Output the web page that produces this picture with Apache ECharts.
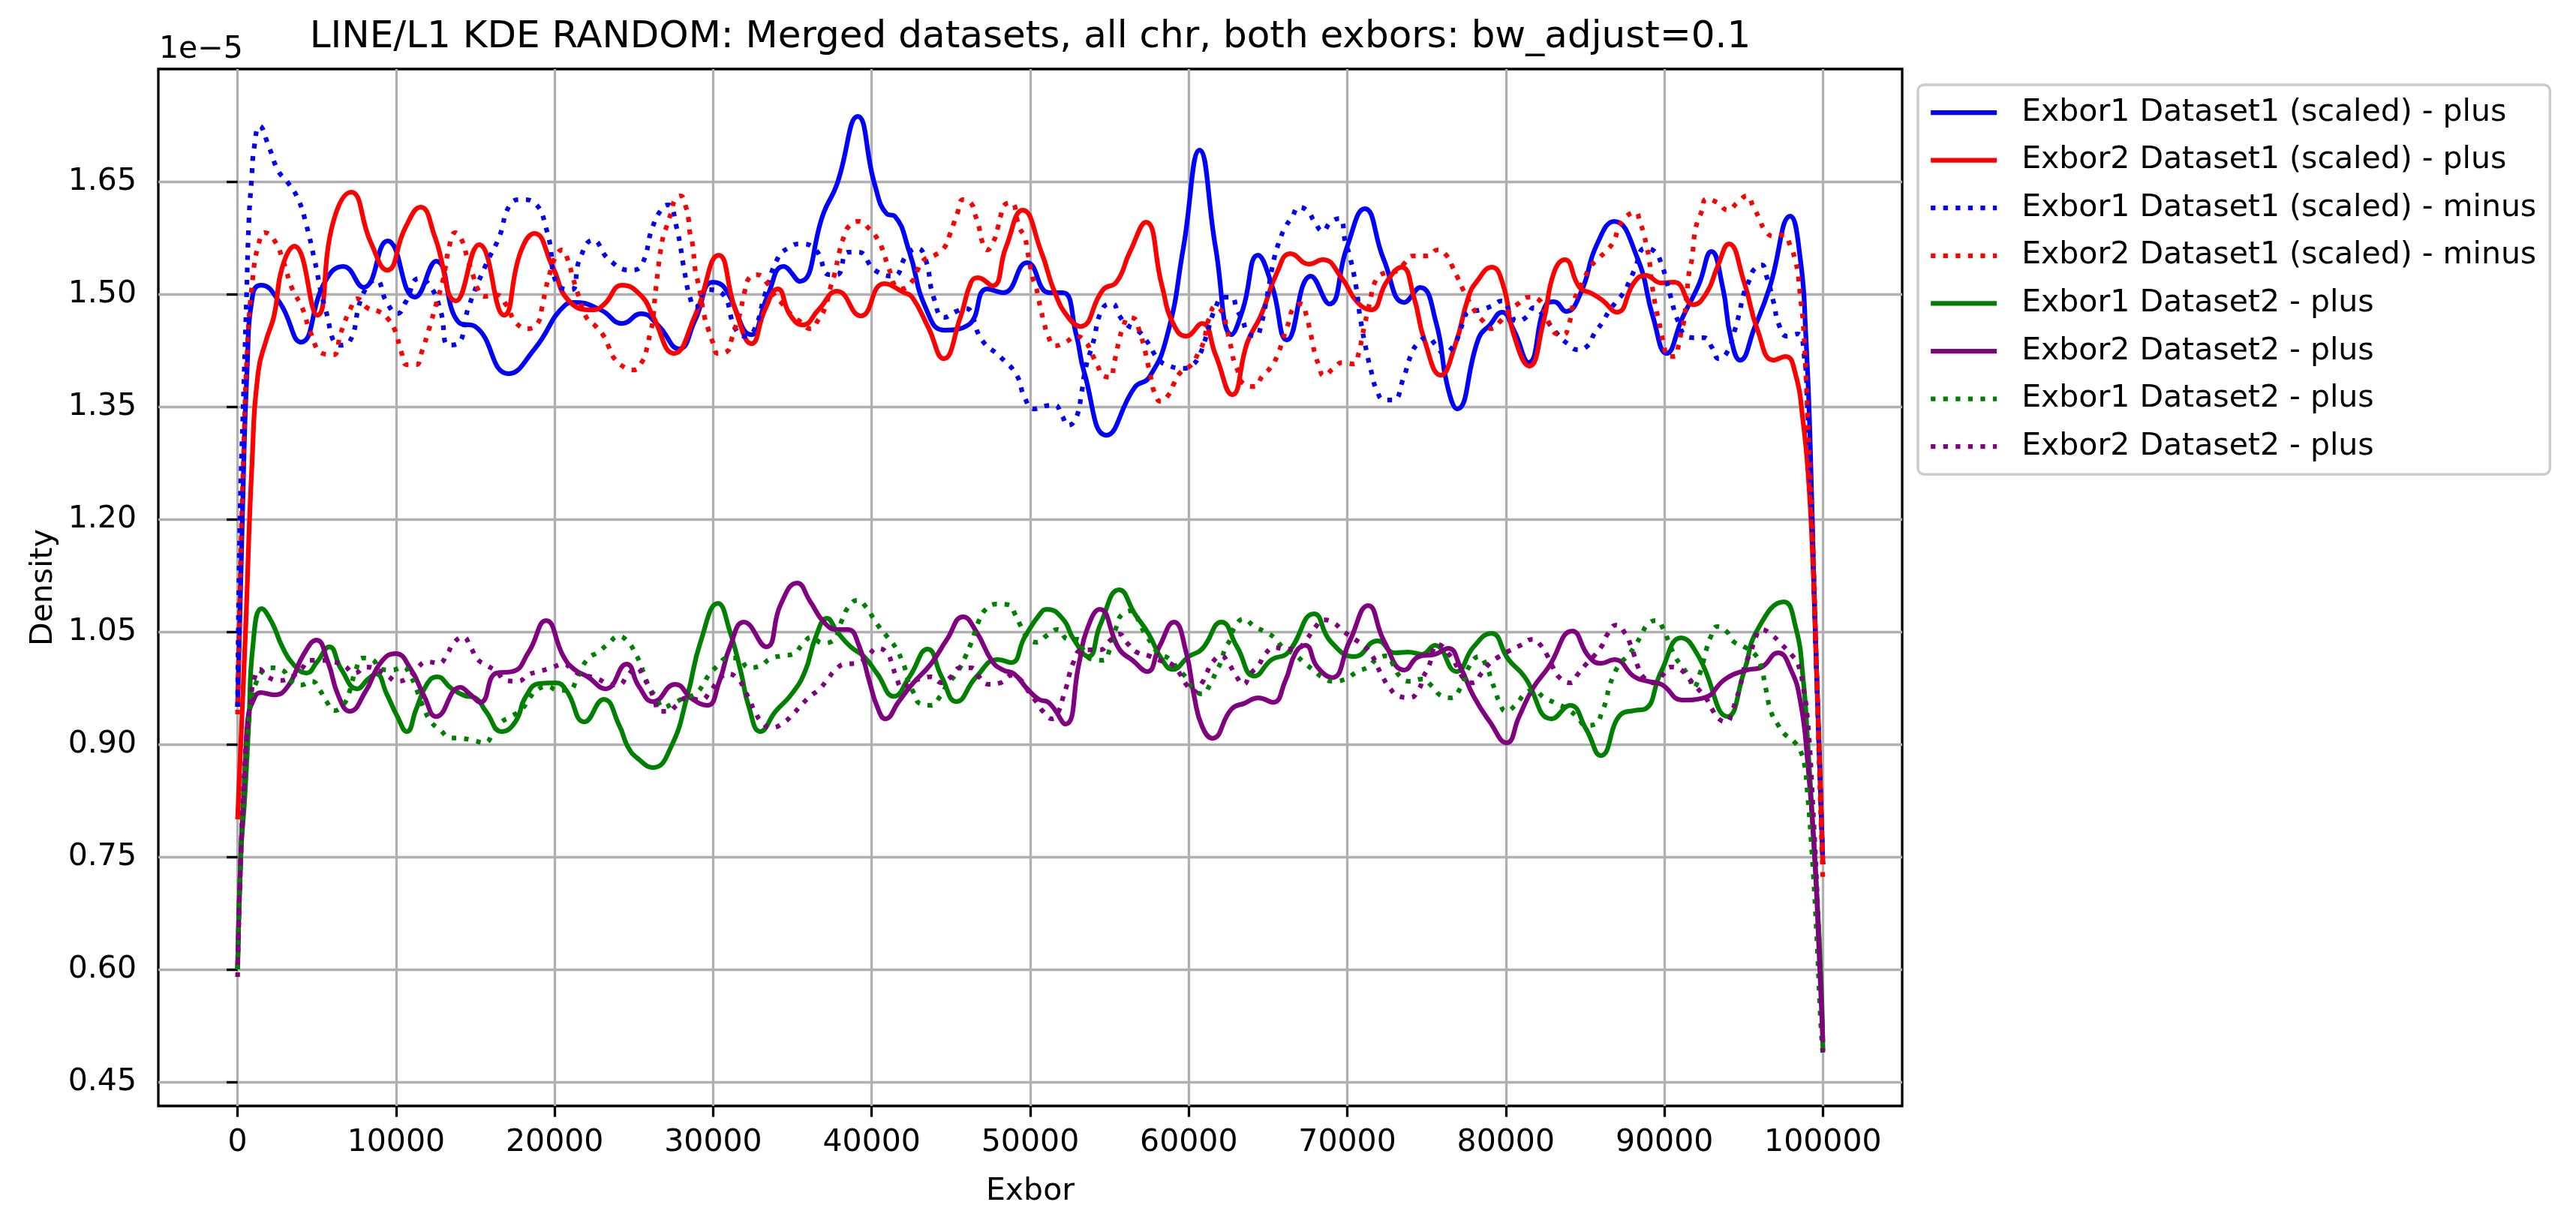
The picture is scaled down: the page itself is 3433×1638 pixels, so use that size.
<!DOCTYPE html>
<html>
<head>
<meta charset="utf-8">
<title>LINE/L1 KDE RANDOM</title>
<script src="https://cdn.jsdelivr.net/npm/echarts@6.0.0/dist/echarts.min.js"></script>
<style>
  html, body { margin: 0; padding: 0; background: #fff; }
  #chart { width: 3433px; height: 1638px; }
</style>
</head>
<body>
<div id="chart"></div>
<script>
// x in thousands of Exbor, y in units of 1e-5
const xTicks = [0, 10000, 20000, 30000, 40000, 50000, 60000, 70000, 80000, 90000, 100000];
const yTicks = [0.45, 0.60, 0.75, 0.90, 1.05, 1.20, 1.35, 1.50, 1.65];

const seriesLabels = [
  "Exbor1 Dataset1 (scaled) - plus",
  "Exbor2 Dataset1 (scaled) - plus",
  "Exbor1 Dataset1 (scaled) - minus",
  "Exbor2 Dataset1 (scaled) - minus",
  "Exbor1 Dataset2 - plus",
  "Exbor2 Dataset2 - plus",
  "Exbor1 Dataset2 - plus",
  "Exbor2 Dataset2 - plus"
];

const exbor1Set1Plus = [[0,0.95],[0.3,1.2],[0.6,1.40],[0.96,1.50],[1.47,1.512],[2.65,1.489],[4.0,1.436],[5.5,1.516],[6.67,1.537],[7.94,1.509],[9.46,1.571],[11.18,1.496],[12.53,1.544],[13.97,1.462],[14.98,1.457],[17.09,1.394],[18.7,1.426],[20.7,1.486],[21.2,1.489],[22.9,1.479],[24.27,1.461],[25.46,1.474],[26.5,1.459],[27.85,1.427],[28.87,1.466],[29.97,1.516],[30.7,1.509],[32.4,1.446],[33.4,1.496],[34.44,1.537],[35.46,1.517],[36.98,1.609],[37.8,1.646],[39.12,1.737],[40.19,1.646],[40.95,1.607],[41.45,1.604],[42.38,1.556],[43.4,1.482],[44.58,1.452],[46.1,1.459],[47.28,1.507],[48.3,1.502],[49.8,1.542],[51.2,1.502],[52.06,1.502],[52.9,1.446],[53.4,1.396],[54.81,1.312],[56.6,1.376],[57.5,1.389],[58.65,1.446],[59.66,1.562],[60.68,1.692],[61.69,1.562],[62.7,1.446],[63.4,1.479],[64.36,1.552],[65.24,1.512],[66.2,1.439],[67.7,1.524],[68.87,1.487],[69.97,1.562],[71.1,1.614],[72.3,1.546],[73.6,1.489],[74.6,1.509],[75.6,1.462],[76.3,1.379],[76.93,1.347],[78.3,1.442],[79.0,1.459],[79.75,1.476],[80.5,1.452],[81.44,1.409],[82.53,1.486],[83.04,1.490],[83.8,1.477],[84.73,1.502],[85.74,1.566],[86.84,1.597],[88.28,1.549],[89.29,1.469],[90.14,1.421],[91.15,1.469],[92.16,1.512],[92.97,1.557],[93.68,1.509],[94.19,1.442],[94.78,1.412],[95.7,1.456],[96.64,1.509],[97.94,1.604],[98.58,1.546],[98.92,1.446],[99.2,1.30],[99.45,1.10],[99.75,0.90],[100,0.74]];

const exbor2Set1Plus = [[0,0.80],[0.5,1.05],[0.9,1.27],[1.3,1.396],[1.81,1.439],[2.31,1.472],[2.82,1.536],[3.58,1.564],[5.02,1.472],[6.03,1.596],[7.16,1.636],[8.4,1.569],[9.44,1.532],[10.59,1.589],[11.55,1.616],[12.45,1.576],[13.77,1.491],[15.24,1.566],[16.8,1.472],[17.85,1.556],[18.73,1.581],[19.88,1.536],[20.9,1.491],[22.4,1.479],[23.1,1.486],[24.27,1.512],[25.5,1.497],[26.17,1.472],[27.52,1.421],[28.87,1.472],[30.35,1.552],[31.4,1.479],[32.42,1.434],[33.26,1.479],[34.07,1.507],[34.86,1.472],[35.66,1.459],[36.64,1.479],[37.82,1.504],[39.31,1.471],[40.78,1.514],[42.04,1.502],[42.55,1.496],[43.56,1.456],[44.54,1.414],[45.59,1.469],[46.27,1.516],[46.69,1.522],[47.62,1.511],[48.46,1.562],[49.53,1.612],[50.7,1.556],[51.55,1.502],[52.4,1.469],[53.16,1.457],[54.6,1.506],[55.44,1.516],[56.28,1.556],[57.3,1.596],[58.3,1.512],[58.99,1.462],[59.83,1.444],[60.84,1.461],[61.69,1.419],[62.74,1.366],[63.7,1.436],[64.56,1.472],[65.57,1.529],[66.42,1.554],[67.6,1.540],[68.45,1.546],[69.63,1.522],[70.64,1.489],[71.49,1.479],[72.5,1.517],[73.43,1.536],[74.2,1.496],[74.86,1.439],[75.9,1.392],[76.8,1.432],[77.64,1.496],[78.14,1.516],[79.12,1.536],[79.83,1.512],[80.5,1.446],[81.49,1.404],[82.36,1.462],[83.04,1.529],[83.72,1.546],[84.65,1.509],[85.4,1.501],[86.08,1.492],[87.01,1.476],[88.11,1.516],[88.82,1.525],[89.8,1.515],[90.64,1.516],[91.82,1.486],[92.67,1.502],[93.34,1.536],[94.07,1.567],[95.03,1.516],[95.88,1.452],[96.89,1.412],[97.65,1.417],[98.24,1.396],[98.75,1.33],[99.1,1.25],[99.35,1.15],[99.55,1.03],[99.76,0.90],[100,0.74]];

const exbor1Set1Minus = [[0,0.95],[0.15,1.2],[0.37,1.362],[0.54,1.479],[0.71,1.596],[0.88,1.652],[1.05,1.696],[1.39,1.724],[1.98,1.696],[2.57,1.664],[3.16,1.649],[3.83,1.626],[4.34,1.592],[4.85,1.546],[5.52,1.482],[6.45,1.432],[7.04,1.436],[7.89,1.499],[8.73,1.519],[9.41,1.489],[10.08,1.474],[10.59,1.489],[11.44,1.521],[12.11,1.512],[12.79,1.479],[13.3,1.432],[13.89,1.434],[14.56,1.482],[15.66,1.539],[16.5,1.576],[17.18,1.619],[17.94,1.626],[18.7,1.622],[19.54,1.582],[20.2,1.512],[21.06,1.506],[21.57,1.546],[22.42,1.572],[23.43,1.546],[24.78,1.532],[25.49,1.539],[26.17,1.589],[26.84,1.616],[27.18,1.619],[27.69,1.589],[28.2,1.529],[28.53,1.496],[28.87,1.482],[29.63,1.506],[30.56,1.501],[31.4,1.454],[31.99,1.444],[32.58,1.452],[33.26,1.499],[34.1,1.549],[34.78,1.562],[35.46,1.567],[36.47,1.559],[37.31,1.526],[37.82,1.526],[38.5,1.556],[39.17,1.556],[40.19,1.532],[41.37,1.524],[42.21,1.552],[42.89,1.561],[43.4,1.546],[43.9,1.496],[44.58,1.469],[45.34,1.477],[45.93,1.481],[46.94,1.439],[48.13,1.416],[49.14,1.392],[49.65,1.362],[50.24,1.347],[50.96,1.351],[51.55,1.352],[51.98,1.339],[52.4,1.325],[52.91,1.336],[53.24,1.369],[53.5,1.402],[53.92,1.432],[54.6,1.482],[55.19,1.487],[55.6,1.472],[56.1,1.459],[56.8,1.451],[57.3,1.439],[58.14,1.412],[58.82,1.404],[59.58,1.401],[60.25,1.406],[60.68,1.419],[61.0,1.437],[61.69,1.482],[62.2,1.496],[62.7,1.496],[63.04,1.479],[63.38,1.466],[63.72,1.449],[64.22,1.444],[64.56,1.459],[64.98,1.502],[65.4,1.549],[65.74,1.572],[66.08,1.589],[66.5,1.602],[66.96,1.616],[67.52,1.610],[67.94,1.596],[68.45,1.584],[68.95,1.596],[69.51,1.601],[69.88,1.569],[70.14,1.552],[70.56,1.509],[70.81,1.469],[71.23,1.422],[71.57,1.392],[71.82,1.374],[72.33,1.359],[72.92,1.359],[73.51,1.386],[74.02,1.419],[74.44,1.434],[75.03,1.442],[75.6,1.432],[76.1,1.421],[76.7,1.431],[77.04,1.446],[77.3,1.462],[77.64,1.476],[78.4,1.479],[79.07,1.484],[79.75,1.491],[80.25,1.477],[80.68,1.464],[81.27,1.469],[81.77,1.482],[82.36,1.472],[82.79,1.459],[83.29,1.446],[83.89,1.434],[84.53,1.426],[85.2,1.432],[85.57,1.447],[86.08,1.462],[86.5,1.477],[86.93,1.489],[87.43,1.502],[87.77,1.516],[88.11,1.532],[88.78,1.561],[89.38,1.557],[89.8,1.541],[90.22,1.511],[90.64,1.477],[90.9,1.462],[91.23,1.447],[91.82,1.442],[92.5,1.442],[93.0,1.429],[93.43,1.414],[93.94,1.422],[94.44,1.452],[94.7,1.472],[95.03,1.502],[95.37,1.519],[95.62,1.532],[96.13,1.539],[96.47,1.522],[96.89,1.489],[97.23,1.459],[97.74,1.444],[98.41,1.447],[98.83,1.416],[99.0,1.362],[99.3,1.2],[99.55,1.03],[99.78,0.88],[100,0.74]];

const exbor2Set1Minus = [[0,0.94],[0.2,1.15],[0.37,1.279],[0.62,1.429],[0.96,1.522],[1.33,1.567],[1.72,1.582],[2.31,1.572],[2.91,1.542],[3.41,1.509],[4.09,1.481],[4.6,1.449],[5.35,1.421],[6.03,1.419],[6.52,1.449],[7.13,1.481],[7.55,1.494],[8.23,1.481],[8.9,1.477],[9.49,1.467],[9.92,1.452],[10.34,1.422],[10.68,1.406],[11.27,1.406],[11.6,1.422],[12.11,1.456],[12.53,1.487],[12.96,1.519],[13.38,1.566],[13.72,1.582],[14.14,1.572],[14.48,1.549],[14.9,1.522],[15.15,1.507],[15.57,1.497],[16.33,1.499],[16.93,1.486],[17.6,1.461],[18.36,1.454],[18.95,1.462],[19.2,1.482],[19.46,1.509],[19.71,1.529],[19.97,1.546],[20.47,1.559],[20.81,1.547],[21.15,1.522],[21.49,1.499],[22.0,1.469],[22.6,1.457],[23.1,1.444],[23.43,1.429],[23.77,1.414],[24.44,1.402],[24.98,1.399],[25.57,1.412],[25.83,1.429],[26.0,1.446],[26.17,1.462],[26.33,1.496],[26.5,1.529],[26.67,1.556],[26.84,1.576],[27.09,1.592],[27.35,1.609],[27.6,1.626],[27.94,1.631],[28.28,1.616],[28.45,1.599],[28.53,1.582],[28.7,1.566],[28.87,1.532],[29.04,1.516],[29.2,1.499],[29.46,1.469],[29.71,1.452],[29.97,1.436],[30.3,1.421],[30.9,1.424],[31.15,1.439],[31.4,1.456],[31.66,1.472],[31.99,1.504],[32.25,1.521],[32.75,1.526],[33.43,1.514],[33.85,1.499],[34.36,1.487],[34.95,1.472],[35.46,1.464],[36.13,1.454],[36.64,1.466],[37.06,1.482],[37.4,1.509],[37.65,1.526],[37.99,1.559],[38.24,1.576],[38.58,1.591],[39.17,1.597],[39.85,1.587],[40.35,1.574],[40.69,1.559],[40.95,1.542],[41.2,1.527],[41.45,1.512],[41.88,1.507],[42.55,1.517],[42.89,1.532],[43.31,1.546],[43.99,1.552],[44.58,1.562],[44.92,1.579],[45.17,1.594],[45.42,1.609],[45.76,1.626],[46.27,1.621],[46.52,1.606],[46.77,1.589],[46.94,1.572],[47.28,1.559],[47.7,1.571],[47.96,1.589],[48.13,1.604],[48.38,1.619],[48.8,1.622],[49.31,1.589],[49.65,1.576],[49.81,1.559],[50.15,1.522],[50.37,1.509],[50.54,1.492],[50.71,1.476],[50.88,1.461],[51.13,1.444],[51.55,1.431],[52.23,1.436],[52.9,1.444],[53.5,1.436],[53.92,1.419],[54.26,1.404],[54.6,1.391],[55.1,1.389],[55.27,1.406],[55.44,1.422],[55.61,1.439],[55.86,1.456],[56.2,1.469],[56.6,1.467],[56.88,1.451],[57.13,1.434],[57.3,1.419],[57.47,1.402],[57.64,1.386],[57.8,1.371],[58.23,1.357],[58.73,1.366],[59.07,1.381],[59.49,1.396],[60.17,1.406],[60.59,1.421],[60.93,1.436],[61.1,1.452],[61.27,1.467],[61.69,1.484],[62.2,1.472],[62.36,1.457],[62.53,1.442],[62.7,1.426],[62.87,1.409],[63.13,1.396],[63.38,1.382],[64.14,1.377],[64.65,1.391],[65.15,1.402],[65.57,1.417],[65.83,1.432],[66.08,1.449],[66.33,1.464],[66.59,1.481],[67.09,1.487],[67.43,1.471],[67.6,1.456],[67.77,1.439],[67.94,1.422],[68.19,1.406],[68.53,1.391],[69.12,1.401],[69.71,1.409],[70.39,1.407],[70.73,1.422],[70.9,1.439],[71.06,1.456],[71.23,1.472],[71.4,1.487],[71.82,1.519],[72.5,1.529],[73.18,1.531],[73.6,1.541],[74.19,1.551],[75.03,1.551],[75.7,1.559],[76.28,1.551],[76.62,1.537],[76.96,1.522],[77.3,1.506],[77.64,1.492],[78.06,1.477],[78.56,1.464],[79.07,1.454],[79.66,1.464],[80.17,1.477],[80.76,1.487],[81.44,1.496],[82.11,1.492],[82.45,1.476],[82.79,1.459],[83.21,1.447],[83.63,1.446],[83.97,1.459],[84.31,1.492],[84.65,1.507],[84.98,1.522],[85.32,1.536],[85.91,1.549],[86.42,1.559],[86.84,1.572],[87.09,1.587],[87.52,1.602],[88.19,1.609],[88.45,1.596],[88.7,1.581],[88.87,1.564],[89.04,1.547],[89.21,1.514],[89.46,1.482],[89.63,1.466],[89.8,1.449],[89.97,1.432],[90.22,1.417],[90.64,1.417],[90.9,1.432],[91.06,1.449],[91.23,1.464],[91.4,1.497],[91.57,1.531],[91.74,1.547],[91.91,1.581],[92.08,1.596],[92.33,1.609],[92.67,1.627],[93.34,1.622],[93.99,1.612],[94.61,1.622],[95.2,1.631],[95.62,1.616],[95.96,1.602],[96.3,1.587],[96.89,1.577],[97.48,1.579],[97.99,1.562],[98.24,1.546],[98.41,1.529],[98.58,1.496],[98.75,1.462],[98.92,1.396],[99.09,1.312],[99.35,1.18],[99.6,1.0],[99.8,0.85],[100,0.72]];

const exbor1Set2Plus = [[0,0.60],[0.2,0.75],[0.46,0.831],[0.71,0.930],[0.96,1.030],[1.52,1.081],[2.15,1.063],[2.82,1.030],[3.5,1.007],[4.34,0.995],[5.02,1.010],[5.78,1.030],[6.54,1.000],[7.55,0.974],[8.23,0.987],[8.73,0.994],[9.41,0.967],[10.08,0.937],[10.68,0.917],[11.27,0.947],[11.94,0.980],[12.58,0.990],[13.46,0.975],[14.3,0.965],[14.98,0.962],[15.66,0.944],[16.67,0.917],[17.52,0.930],[18.19,0.964],[19.04,0.981],[20.05,0.982],[20.73,0.972],[21.88,0.930],[23.09,0.960],[24.1,0.924],[24.61,0.897],[25.25,0.881],[26.22,0.869],[27.35,0.897],[28.36,0.964],[29.21,1.037],[30.3,1.088],[31.06,1.050],[31.74,0.997],[32.25,0.950],[32.97,0.917],[33.94,0.944],[34.95,0.967],[35.79,0.997],[36.47,1.043],[37.18,1.068],[37.82,1.050],[38.67,1.030],[39.51,1.017],[40.35,0.994],[41.4,0.964],[42.38,0.990],[43.53,1.027],[44.41,0.990],[45.34,0.957],[46.6,0.990],[47.96,1.013],[48.8,1.009],[49.65,1.043],[50.66,1.075],[51.05,1.080],[52.06,1.067],[52.74,1.040],[53.67,1.017],[54.43,1.060],[55.61,1.106],[56.62,1.073],[57.47,1.047],[58.31,1.013],[58.99,1.000],[60.0,1.017],[60.84,1.027],[62.06,1.063],[63.04,1.030],[64.14,0.991],[65.24,1.013],[66.25,1.022],[67.9,1.074],[68.95,1.037],[70.47,1.017],[71.9,1.038],[73.0,1.022],[73.85,1.023],[74.7,1.020],[75.52,1.032],[76.88,0.997],[77.97,1.030],[79.07,1.048],[80.17,1.013],[81.18,0.990],[82.9,0.934],[84.05,0.952],[85.07,0.920],[86.0,0.885],[87.26,0.940],[88.11,0.945],[88.78,0.947],[89.8,0.997],[91.06,1.042],[92.16,1.017],[93.99,0.937],[95.03,0.997],[95.88,1.053],[97.53,1.090],[98.27,1.057],[98.74,0.99],[99.05,0.90],[99.37,0.789],[99.68,0.677],[99.92,0.565],[100,0.492]];

const exbor2Set2Plus = [[0,0.60],[0.2,0.75],[0.5,0.88],[0.63,0.930],[0.96,0.957],[1.47,0.969],[2.31,0.966],[3.16,0.977],[4.17,1.020],[4.98,1.039],[5.69,1.010],[6.37,0.964],[7.08,0.944],[8.06,0.970],[9.07,1.010],[9.97,1.021],[10.93,1.000],[11.77,0.964],[12.53,0.937],[14.05,0.976],[14.65,0.967],[15.32,0.956],[16.33,0.995],[17.35,0.997],[18.36,1.023],[19.46,1.065],[20.56,1.017],[21.23,1.000],[22.08,0.990],[23.23,0.974],[24.53,1.007],[25.32,0.977],[26.22,0.957],[27.6,0.980],[28.7,0.960],[29.63,0.952],[30.39,0.984],[31.06,1.030],[31.94,1.063],[33.34,1.030],[34.27,1.087],[35.29,1.115],[36.13,1.090],[36.98,1.063],[37.82,1.053],[38.5,1.053],[39.17,1.033],[39.85,0.984],[40.35,0.950],[40.86,0.934],[41.71,0.957],[42.55,0.980],[43.73,1.007],[44.75,1.040],[45.76,1.070],[46.6,1.050],[47.62,1.010],[48.29,0.999],[48.97,0.994],[49.81,0.974],[50.54,0.960],[51.2,0.955],[52.23,0.927],[53.07,1.007],[53.58,1.053],[54.39,1.080],[55.61,1.027],[56.45,1.012],[57.38,0.997],[58.14,1.030],[59.07,1.063],[59.83,1.023],[60.34,0.964],[60.84,0.924],[61.49,0.908],[62.7,0.947],[63.55,0.955],[64.39,0.962],[65.32,0.956],[66.08,0.984],[66.76,1.023],[67.35,1.032],[68.11,1.003],[69.04,0.989],[70.14,1.037],[71.32,1.085],[72.33,1.037],[73.6,0.999],[74.53,1.017],[75.54,1.020],[76.37,1.028],[77.13,1.003],[77.97,0.964],[78.99,0.930],[80.05,0.902],[80.84,0.937],[81.69,0.974],[82.7,1.003],[84.19,1.051],[85.24,1.017],[86.0,1.008],[86.84,1.013],[88.11,0.990],[88.95,0.984],[89.8,0.980],[91.15,0.959],[92.5,0.962],[93.85,0.987],[95.2,0.999],[96.05,1.002],[97.18,1.022],[97.95,1.001],[98.58,0.957],[99.05,0.873],[99.45,0.761],[99.76,0.621],[100,0.503]];

const exbor1Set2PlusDot = [[0,0.60],[0.2,0.75],[0.5,0.88],[0.71,0.930],[0.88,0.964],[1.13,0.980],[1.47,0.995],[2.06,1.002],[2.82,0.999],[3.33,0.985],[4.0,0.979],[4.68,0.984],[5.19,0.972],[5.61,0.957],[6.11,0.945],[6.71,0.954],[7.04,0.969],[7.47,1.000],[7.89,1.015],[8.48,1.013],[9.07,1.000],[9.75,0.999],[10.42,1.003],[10.93,0.990],[11.27,0.974],[11.77,0.947],[12.2,0.930],[12.79,0.919],[13.38,0.909],[14.14,0.908],[14.9,0.905],[15.57,0.902],[16.17,0.917],[16.59,0.929],[17.26,0.937],[17.94,0.947],[18.36,0.960],[18.87,0.972],[19.54,0.977],[20.22,0.972],[20.9,0.972],[21.4,0.987],[21.66,1.000],[22.16,1.015],[22.75,1.023],[23.43,1.035],[24.02,1.044],[24.61,1.037],[25.07,1.022],[25.41,1.007],[25.66,0.992],[26.0,0.975],[26.42,0.962],[26.84,0.949],[27.43,0.954],[28.19,0.962],[28.87,0.967],[29.38,0.980],[29.71,0.992],[30.3,1.005],[30.9,1.015],[31.57,1.015],[32.25,1.002],[32.92,1.004],[33.6,1.014],[34.36,1.018],[35.03,1.020],[35.63,1.033],[36.22,1.043],[36.89,1.035],[37.48,1.037],[38.16,1.067],[38.5,1.082],[39.09,1.092],[39.68,1.082],[40.1,1.068],[40.52,1.055],[41.03,1.042],[41.54,1.028],[41.88,1.013],[42.13,0.999],[42.3,0.984],[42.64,0.969],[43.06,0.954],[43.73,0.952],[44.32,0.964],[44.75,0.979],[45.25,0.992],[45.59,1.003],[45.93,1.018],[46.27,1.035],[46.52,1.050],[46.77,1.065],[47.2,1.080],[47.87,1.087],[48.63,1.086],[49.05,1.073],[49.39,1.058],[49.73,1.045],[50.4,1.036],[51.05,1.045],[51.72,1.053],[52.4,1.040],[52.99,1.040],[53.41,1.023],[53.92,1.013],[54.6,1.012],[55.02,1.027],[55.44,1.057],[55.78,1.073],[56.45,1.078],[56.87,1.063],[57.21,1.048],[57.64,1.035],[58.06,1.022],[58.82,1.013],[59.32,1.000],[59.83,0.989],[60.25,0.975],[60.84,0.967],[61.35,0.980],[61.69,0.995],[62.03,1.010],[62.28,1.027],[62.62,1.040],[62.87,1.055],[63.46,1.067],[64.14,1.057],[64.81,1.050],[65.4,1.042],[65.99,1.028],[66.67,1.020],[67.26,1.009],[67.85,0.999],[68.45,0.989],[69.12,0.984],[69.88,0.987],[70.64,0.997],[71.32,1.003],[71.82,1.013],[72.5,1.018],[72.92,1.005],[73.34,0.990],[73.94,0.984],[74.7,0.987],[75.37,0.977],[75.9,0.965],[76.54,0.962],[77.13,0.975],[77.72,1.005],[78.31,1.017],[78.82,1.002],[79.07,0.987],[79.32,0.972],[79.58,0.957],[80.0,0.944],[80.68,0.954],[81.18,0.967],[81.69,0.972],[82.45,0.962],[83.21,0.954],[83.89,0.947],[84.48,0.937],[85.07,0.925],[85.66,0.927],[86.08,0.944],[86.33,0.959],[86.5,0.975],[86.76,0.990],[87.18,1.007],[87.69,1.018],[88.11,1.030],[88.53,1.045],[88.95,1.060],[89.49,1.065],[89.97,1.052],[90.3,1.035],[90.73,1.015],[91.15,1.003],[91.57,0.989],[91.82,0.975],[92.25,0.995],[92.67,1.028],[92.92,1.043],[93.34,1.057],[93.94,1.050],[94.36,1.037],[95.03,1.030],[95.62,1.022],[96.05,1.007],[96.39,0.975],[96.72,0.944],[97.14,0.927],[97.57,0.914],[98.16,0.904],[98.58,0.891],[98.83,0.874],[99.0,0.841],[99.29,0.761],[99.6,0.649],[99.84,0.537],[100,0.485]];

const exbor2Set2PlusDot = [[0,0.59],[0.2,0.75],[0.5,0.89],[0.71,0.937],[0.88,0.970],[1.05,0.987],[1.39,1.000],[1.89,0.990],[2.65,0.985],[3.41,0.990],[4.0,1.000],[4.59,1.012],[5.27,1.012],[6.03,1.010],[6.71,1.005],[7.38,0.995],[8.14,1.003],[8.73,1.000],[9.41,0.992],[10.08,0.984],[10.84,0.990],[11.35,1.002],[11.94,1.010],[12.7,1.008],[13.21,1.020],[13.63,1.035],[14.22,1.043],[14.73,1.028],[15.15,1.013],[15.74,1.005],[16.33,0.997],[16.93,0.985],[17.69,0.984],[18.36,0.993],[19.04,0.997],[19.8,1.002],[20.56,1.007],[21.23,0.997],[21.91,0.992],[22.75,0.987],[23.43,0.980],[24.02,0.979],[24.61,0.992],[25.15,1.002],[25.66,0.987],[26.0,0.974],[26.33,0.957],[26.59,0.944],[27.18,0.944],[27.69,0.952],[28.36,0.962],[29.21,0.959],[29.8,0.970],[30.3,0.984],[30.9,0.994],[31.57,0.987],[31.99,0.972],[32.33,0.957],[32.67,0.942],[33.09,0.929],[33.68,0.922],[34.44,0.929],[35.03,0.940],[35.54,0.952],[36.13,0.964],[36.72,0.974],[37.23,0.987],[37.74,1.000],[38.33,1.007],[39.09,1.008],[39.76,1.018],[40.35,1.028],[40.95,1.022],[41.28,1.007],[41.54,0.990],[41.96,0.975],[42.55,0.984],[43.06,0.987],[43.73,0.990],[44.41,0.982],[45.0,0.990],[45.59,1.002],[46.27,1.002],[46.77,0.990],[47.36,0.980],[48.13,0.982],[48.8,0.992],[49.48,0.984],[49.9,0.970],[50.37,0.957],[50.8,0.944],[51.39,0.934],[51.81,0.945],[52.06,0.962],[52.31,0.979],[52.48,0.994],[52.74,1.010],[53.16,1.025],[53.75,1.026],[54.43,1.026],[55.02,1.038],[55.61,1.047],[56.11,1.035],[56.7,1.023],[57.47,1.018],[58.14,1.012],[58.9,1.007],[59.41,0.995],[59.83,0.980],[60.34,0.970],[60.84,0.982],[61.1,0.994],[61.52,1.010],[62.03,1.018],[62.53,1.007],[62.96,0.992],[63.46,0.980],[63.89,0.994],[64.39,1.005],[64.81,1.020],[65.41,1.029],[66.08,1.027],[66.76,1.027],[67.43,1.040],[67.94,1.055],[68.53,1.066],[69.12,1.062],[69.8,1.050],[70.47,1.040],[71.06,1.031],[71.57,1.018],[71.91,1.003],[72.25,0.989],[72.67,0.975],[73.26,0.964],[73.94,0.962],[74.53,0.974],[74.78,0.989],[75.12,1.003],[75.71,1.033],[76.54,1.017],[76.96,1.002],[77.38,0.987],[77.89,0.982],[78.48,0.995],[78.99,1.008],[79.58,1.017],[80.25,1.025],[80.93,1.032],[81.69,1.040],[82.2,1.032],[82.62,1.018],[82.96,1.003],[83.38,0.989],[84.05,0.982],[84.56,0.994],[85.07,1.007],[85.57,1.018],[86.08,1.032],[86.42,1.047],[86.96,1.059],[87.52,1.048],[87.86,1.033],[88.11,1.018],[88.36,1.002],[88.7,0.989],[89.29,0.982],[89.97,0.994],[90.39,1.003],[91.06,0.999],[91.57,0.987],[92.08,0.975],[92.67,0.960],[93.0,0.947],[93.43,0.934],[93.94,0.930],[94.27,0.944],[94.53,0.960],[94.78,0.977],[94.95,0.994],[95.12,1.008],[95.46,1.023],[95.71,1.040],[96.13,1.053],[96.81,1.045],[97.4,1.033],[97.99,1.020],[98.42,1.007],[98.74,0.979],[99.05,0.929],[99.37,0.817],[99.68,0.677],[100,0.49]];

const FONT = "DejaVu Sans";
const LW = 6.25;                 // 1.5pt at 300 dpi
const DOT = [6.25, 10.3];        // matplotlib ':' pattern

const lines = [
  { data: exbor1Set1Plus,    color: "#0000ff", dotted: false },
  { data: exbor2Set1Plus,    color: "#ff0000", dotted: false },
  { data: exbor1Set1Minus,   color: "#0000ff", dotted: true },
  { data: exbor2Set1Minus,   color: "#ff0000", dotted: true },
  { data: exbor1Set2Plus,    color: "#008000", dotted: false },
  { data: exbor2Set2Plus,    color: "#800080", dotted: false },
  { data: exbor1Set2PlusDot, color: "#008000", dotted: true },
  { data: exbor2Set2PlusDot, color: "#800080", dotted: true }
];

// two legend labels repeat, so series get unique keys and the legend maps them back
const keyOf = i => "s" + i;
const labelOf = {};
lines.forEach((l, i) => { labelOf[keyOf(i)] = seriesLabels[i]; });

const series = lines.map((l, i) => ({
  name: keyOf(i),
  type: "line",
  data: l.data.map(p => [p[0] * 1000, p[1]]),
  symbol: "none",
  smooth: 0.5,
  lineStyle: { color: l.color, width: LW, type: l.dotted ? DOT : "solid", cap: "butt" },
  itemStyle: { color: l.color },
  emphasis: { disabled: true }
}));

const chart = echarts.init(document.getElementById("chart"));

chart.setOption({
  animation: false,
  backgroundColor: "#ffffff",
  textStyle: { fontFamily: FONT },
  grid: {
    left: 211, right: 898, top: 92, bottom: 164,
    show: true, borderColor: "#000000", borderWidth: 3.3, backgroundColor: "transparent"
  },
  graphic: [
    {
      type: "text",
      style: {
        x: 1373, y: 50, text: "LINE/L1 KDE RANDOM: Merged datasets, all chr, both exbors: bw_adjust=0.1",
        font: "50px 'DejaVu Sans'", fill: "#000", textAlign: "center", align: "center",
        textVerticalAlign: "middle", verticalAlign: "middle"
      }
    },
    {
      type: "text",
      style: {
        x: 212, y: 66, text: "1e\u22125",
        font: "41px 'DejaVu Sans'", fill: "#000", textAlign: "left", align: "left",
        textVerticalAlign: "middle", verticalAlign: "middle"
      }
    }
  ],
  legend: {
    orient: "vertical",
    left: 2556, top: 113,
    data: lines.map((l, i) => keyOf(i)),
    formatter: name => labelOf[name],
    itemWidth: 88, itemHeight: 14, itemGap: 15.6,
    padding: [13, 18, 13, 14],
    backgroundColor: "#ffffff",
    borderColor: "#cccccc", borderWidth: 3.5, borderRadius: 8,
    selectedMode: false,
    itemStyle: { opacity: 0 },
    lineStyle: { width: LW },
    textStyle: { fontFamily: FONT, fontSize: 41, lineHeight: 48, color: "#000", padding: [0, 0, 0, 28] }
  },
  xAxis: {
    type: "value",
    min: -5000, max: 105000,
    name: "Exbor", nameLocation: "middle", nameGap: 94,
    nameTextStyle: { fontFamily: FONT, fontSize: 41, color: "#000" },
    axisLine: { show: false },
    axisTick: { show: true, customValues: xTicks, length: 14.6, lineStyle: { color: "#000", width: 3.3 } },
    axisLabel: { customValues: xTicks, formatter: v => String(v), fontFamily: FONT, fontSize: 41, color: "#000", margin: 29 },
    splitLine: { show: true, lineStyle: { color: "#b0b0b0", width: 3.3 } }
  },
  yAxis: {
    type: "value",
    min: 0.418, max: 1.80,
    name: "Density", nameLocation: "middle", nameGap: 132, nameRotate: 90,
    nameTextStyle: { fontFamily: FONT, fontSize: 41, color: "#000" },
    axisLine: { show: false },
    axisTick: { show: true, customValues: yTicks, length: 14.6, lineStyle: { color: "#000", width: 3.3 } },
    axisLabel: { customValues: yTicks, formatter: v => v.toFixed(2), fontFamily: FONT, fontSize: 41, color: "#000", margin: 29 },
    splitLine: { show: true, lineStyle: { color: "#b0b0b0", width: 3.3 } }
  },
  series: series
});
</script>
</body>
</html>
